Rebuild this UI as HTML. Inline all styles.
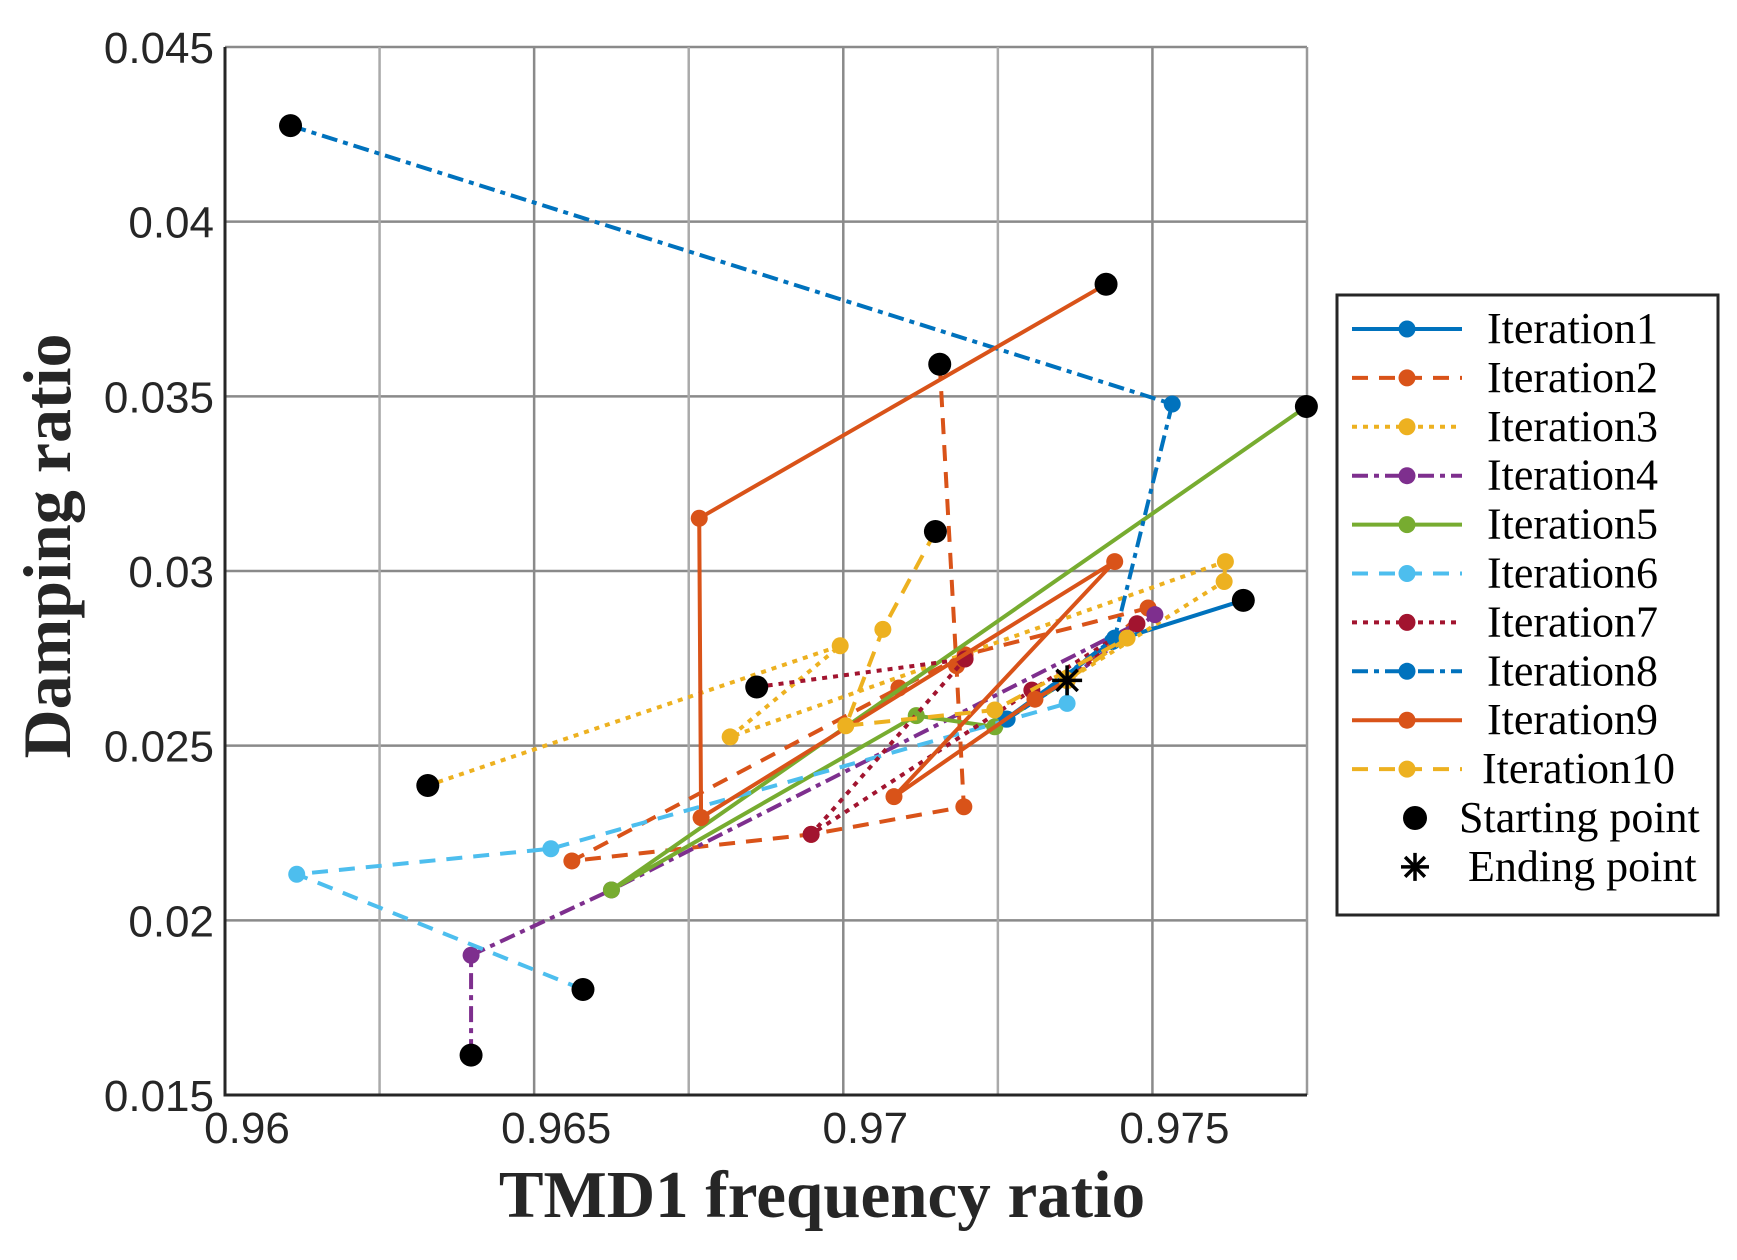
<!DOCTYPE html>
<html><head><meta charset="utf-8"><style>
html,body{margin:0;padding:0;background:#fff;}
svg{display:block;}
</style></head><body>
<svg id="chart" width="1737" height="1260" viewBox="0 0 1737 1260" xmlns="http://www.w3.org/2000/svg">
<g id="grid"></g>
<g id="series"></g>
<g id="ticks" font-family="Liberation Sans, sans-serif" font-size="44" fill="#262626"></g>
<text x="822" y="1217" text-anchor="middle" font-family="Liberation Serif, serif" font-weight="bold" font-size="67" fill="#262626">TMD1 frequency ratio</text>
<text transform="translate(70,546) rotate(-90)" text-anchor="middle" font-family="Liberation Serif, serif" font-weight="bold" font-size="68" fill="#262626">Damping ratio</text>
<g id="legend"></g>
</svg>
<script>
const xTicks=[0.96,0.965,0.97,0.975];
const xTickLabels=["0.96","0.965","0.97","0.975"];
const xMinor=[0.9625,0.9675,0.9725];
const yTicks=[0.015,0.02,0.025,0.03,0.035,0.04,0.045];
const yTickLabels=["0.015","0.02","0.025","0.03","0.035","0.04","0.045"];
const seriesNames=["Iteration1","Iteration2","Iteration3","Iteration4","Iteration5","Iteration6","Iteration7","Iteration8","Iteration9","Iteration10"];
const iter1=[[0.97647,0.02916],[0.97435,0.02798],[0.97263,0.02576],[0.97362,0.02687]];
const iter2=[[0.97156,0.03592],[0.97183,0.02729],[0.97195,0.02325],[0.96948,0.02246],[0.96561,0.0217],[0.9709,0.02665],[0.97197,0.0276],[0.97493,0.02894],[0.97362,0.02687]];
const iter3=[[0.96328,0.02386],[0.96995,0.02786],[0.96817,0.02525],[0.97618,0.03027],[0.97616,0.0297],[0.97362,0.02687]];
const iter4=[[0.96398,0.01614],[0.96398,0.019],[0.96625,0.02087],[0.97504,0.02875],[0.97362,0.02687]];
const iter5=[[0.97749,0.03471],[0.96625,0.02087],[0.97118,0.02586],[0.97245,0.02554],[0.97362,0.02687]];
const iter6=[[0.96579,0.01802],[0.96116,0.02132],[0.96527,0.02205],[0.97362,0.02621],[0.97362,0.02687]];
const iter7=[[0.9686,0.02668],[0.97197,0.02748],[0.96948,0.02246],[0.97305,0.02659],[0.97475,0.02849],[0.97362,0.02687]];
const iter8=[[0.96106,0.04275],[0.97532,0.03478],[0.97439,0.02808],[0.97265,0.02576],[0.97362,0.02687]];
const iter9=[[0.97425,0.03821],[0.96767,0.03151],[0.9677,0.02294],[0.97439,0.03027],[0.97082,0.02354],[0.9731,0.02633],[0.97362,0.02687]];
const iter10=[[0.97149,0.03113],[0.97064,0.02833],[0.97004,0.02557],[0.97245,0.02602],[0.97459,0.02808],[0.97362,0.02687]];
const startPoints=[[0.96106,0.04275],[0.97425,0.03821],[0.97156,0.03592],[0.97749,0.03471],[0.97149,0.03113],[0.97647,0.02916],[0.9686,0.02668],[0.96328,0.02386],[0.96579,0.01802],[0.96398,0.01614]];
const endPoint=[0.97362,0.02687];

const NS="http://www.w3.org/2000/svg";
const L=225,R=1307,T=47,B=1095,X0=0.96,X1=0.9775,Y0=0.015,Y1=0.045;
function xs(v){return L+(v-X0)/(X1-X0)*(R-L);}
function ys(v){return B-(v-Y0)/(Y1-Y0)*(B-T);}
function mk(tag,attrs,parent){const e=document.createElementNS(NS,tag);for(const k in attrs)e.setAttribute(k,attrs[k]);parent.appendChild(e);return e;}
const colors=["#0072BD","#D95319","#EDB120","#7E2F8E","#77AC30","#4DBEEE","#A2142F","#0072BD","#D95319","#EDB120"];
const dashes=["none","16 11","5 6","16 6 5 6","none","16 11","5 6","16 6 5 6","none","16 11"];
const allSeries=[iter1,iter2,iter3,iter4,iter5,iter6,iter7,iter8,iter9,iter10];

const grid=document.getElementById('grid');
mk('rect',{x:L,y:T,width:R-L,height:B-T,fill:'#fff'},grid);
yTicks.forEach((v,i)=>{const l=mk('line',{x1:L,x2:R,y1:ys(v),y2:ys(v),stroke:'#8a8a8a','stroke-width':2.5},grid);

});
xTicks.forEach(v=>{const l=mk('line',{x1:xs(v),x2:xs(v),y1:T,y2:B,stroke:'#8a8a8a','stroke-width':2.5},grid);

});
xMinor.forEach(v=>{const l=mk('line',{x1:xs(v),x2:xs(v),y1:T,y2:B,stroke:'#aaaaaa','stroke-width':2.5},grid);

});
mk('line',{x1:R,x2:R,y1:T,y2:B,stroke:'#9a9a9a','stroke-width':2.5},grid);
const ax=mk('path',{d:`M${L},${T} L${L},${B} L${R},${B}`,fill:'none',stroke:'#262626','stroke-width':3},grid);



const tk=document.getElementById('ticks');
xTicks.forEach((v,i)=>{const t=mk('text',{x:xs(v)+22,y:1143,'text-anchor':'middle'},tk);t.textContent=xTickLabels[i];

});
yTicks.forEach((v,i)=>{const t=mk('text',{x:L-11,y:ys(v)+16,'text-anchor':'end'},tk);t.textContent=yTickLabels[i];

});

const sg=document.getElementById('series');
allSeries.forEach((s,i)=>{
  const g=mk('g',{},sg);
  
  
  const p=mk('polyline',{points:s.map(d=>xs(d[0])+','+ys(d[1])).join(' '),fill:'none',stroke:colors[i],'stroke-width':4,'stroke-dasharray':dashes[i]},g);
  
  
  s.forEach(d=>{const c=mk('circle',{cx:xs(d[0]),cy:ys(d[1]),r:8.5,fill:colors[i]},g);
    
    });
});
startPoints.forEach(d=>{const c=mk('circle',{cx:xs(d[0]),cy:ys(d[1]),r:11.5,fill:'#000'},sg);
  
  });
function star(cx,cy,r,parent){const g=mk('g',{stroke:'#000','stroke-width':3.5},parent);
  for(let k=0;k<4;k++){const a=k*Math.PI/4;mk('line',{x1:cx-r*Math.cos(a),y1:cy-r*Math.sin(a),x2:cx+r*Math.cos(a),y2:cy+r*Math.sin(a)},g);}return g;}
const ep=star(xs(endPoint[0]),ys(endPoint[1]),15,sg);



const lg=document.getElementById('legend');
mk('rect',{x:1337,y:295,width:381,height:620,fill:'#fff',stroke:'#262626','stroke-width':3},lg);
const rowY=i=>329+i*48.9;
seriesNames.forEach((n,i)=>{
  const y=rowY(i);
  const g=mk('g',{},lg);
  
  
  mk('line',{x1:1352,x2:1462,y1:y,y2:y,stroke:colors[i],'stroke-width':4,'stroke-dasharray':dashes[i]},g);
  mk('circle',{cx:1407,cy:y,r:8.5,fill:colors[i]},g);
  const t=mk('text',{x:i==9?1482:1487,y:y+14,'font-family':'Liberation Serif, serif','font-size':44,fill:'#000'},g);t.textContent=n;
});
{const y=rowY(10);const g=mk('g',{},lg);


mk('circle',{cx:1415,cy:y,r:12,fill:'#000'},g);
const t=mk('text',{x:1459,y:y+14,'font-family':'Liberation Serif, serif','font-size':44,fill:'#000'},g);t.textContent='Starting point';}
{const y=rowY(11);const g=mk('g',{},lg);


star(1415,y,14,g);
const t=mk('text',{x:1468,y:y+14,'font-family':'Liberation Serif, serif','font-size':44,fill:'#000'},g);t.textContent='Ending point';}
</script>
</body></html>
